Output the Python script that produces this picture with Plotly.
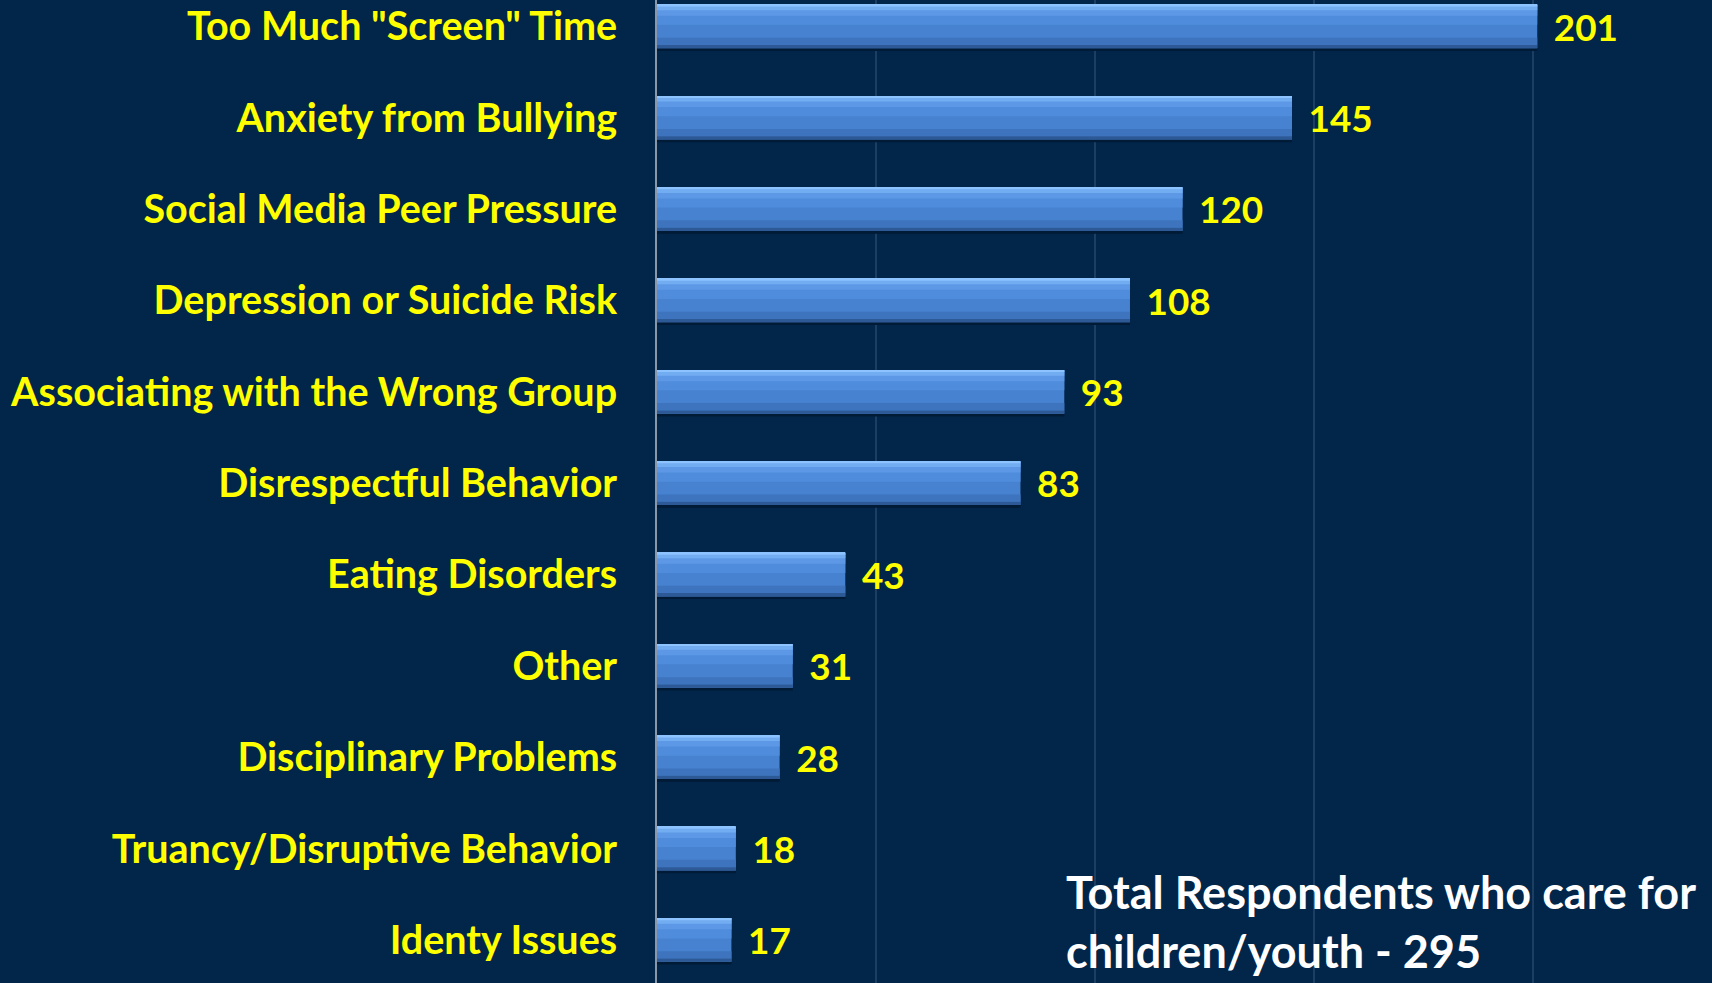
import plotly.graph_objects as go

# Survey data: concerns of respondents who care for children/youth
categories = [
    'Too Much "Screen" Time',
    "Anxiety from Bullying",
    "Social Media Peer Pressure",
    "Depression or Suicide Risk",
    "Associating with the Wrong Group",
    "Disrespectful Behavior",
    "Eating Disorders",
    "Other",
    "Disciplinary Problems",
    "Truancy/Disruptive Behavior",
    "Identy Issues",
]
counts = [201, 145, 120, 108, 93, 83, 43, 31, 28, 18, 17]
total_note = "Total Respondents who care for<br>children/youth - 295"

BG = "#01264A"
YELLOW = "#FFFF00"
FONT = "Lato"
BAR_W = 0.476
TOP = -BAR_W / 2

fig = go.Figure()

# stacked strips (overlay) to fake the bevelled gradient of the original bars
# (color, start below bar top, thickness) in category units
layers = [
    ("#011A35", 0.03, BAR_W),       # drop shadow
    ("#4782D0", 0.0, BAR_W),        # main body
    ("#4F8CDB", 0.0, 0.22),
    ("#5C98E5", 0.0, 0.12),
    ("#72ADF2", 0.0, 0.06),
    ("#8DC3FF", 0.0, 0.02),
    ("#3D74BD", 0.36, 0.08),
    ("#2D5A96", 0.44, BAR_W - 0.44),
]
for i, (col, start, w) in enumerate(layers):
    main = i == 1
    fig.add_trace(go.Bar(
        x=counts,
        y=categories,
        orientation="h",
        width=w,
        offset=TOP + start,
        marker=dict(color=col, line=dict(width=0)),
        text=counts if main else None,
        texttemplate="\u00a0\u2009%{x}" if main else None,
        textposition="outside" if main else "none",
        textfont=dict(family=FONT, size=39, color=YELLOW, weight="bold"),
        cliponaxis=False,
        hoverinfo=None if main else "skip",
        showlegend=False,
    ))

fig.add_annotation(
    text=total_note,
    xref="paper", yref="paper",
    x=0.386, y=0.122,
    xanchor="left", yanchor="top",
    align="left",
    showarrow=False,
    font=dict(family=FONT, size=45, color="white", weight="bold"),
)

fig.update_layout(
    width=1712,
    height=983,
    paper_bgcolor=BG,
    plot_bgcolor=BG,
    margin=dict(l=657, r=0, t=0, b=0),
    barmode="overlay",
    bargap=0.5,
)
fig.update_xaxes(
    range=[0, 240.9],
    dtick=50,
    showgrid=True,
    gridcolor="#1D3E63",
    gridwidth=1.5,
    zeroline=False,
    showticklabels=False,
    showline=False,
)
fig.update_yaxes(
    range=[10.47, -0.29],
    categoryorder="array",
    categoryarray=categories,
    showline=True,
    linecolor="#8A97A8",
    linewidth=2,
    ticks="",
    ticklabelstandoff=30,
    tickfont=dict(family=FONT, size=39.5, color=YELLOW, weight="bold"),
    showgrid=False,
)

# drop the browser's default page margin so the figure fills the window
fig.write_html(
    "out.html",
    config={"displayModeBar": False},
    post_script="document.body.style.margin='0';document.body.style.overflow='hidden';",
)
